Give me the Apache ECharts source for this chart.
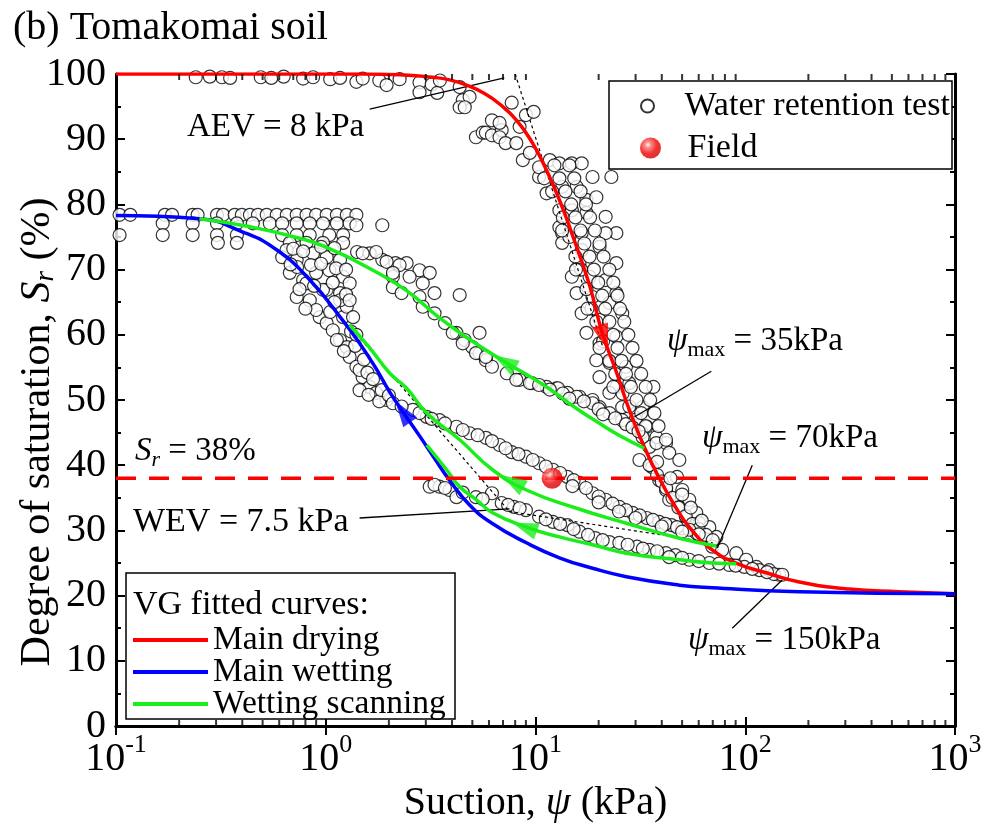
<!DOCTYPE html>
<html><head><meta charset="utf-8">
<script src="https://cdn.jsdelivr.net/npm/echarts@6/dist/echarts.min.js"></script>
<style>html,body{margin:0;padding:0;background:#fff}#c{width:985px;height:832px}</style>
</head><body><div id="c"></div>
<script>
const FONT = 'Liberation Serif';

// ---- axis ticks ----
const yRange = [0, 100];
const xRange = [0.1, 1000];
const xMinorTicks = [0.2,0.3,0.4,0.5,0.6,0.7,0.8,0.9,2,3,4,5,6,7,8,9,20,30,40,50,60,70,80,90,200,300,400,500,600,700,800,900];

// ---- VG fitted curves [suction kPa, Sr %] ----
const mainDrying = [[0.1,100],[1.5,100],[2.25,99.9],[3.23,99.5],[3.89,99.1],[4.69,98.3],[5.65,97.1],[6.74,95.4],[8.13,92.9],[9.68,89.4],[11.0,86.0],[13.0,80.7],[15.3,74.5],[18.1,67.6],[20.8,60.3],[24.3,54.3],[28.0,48.5],[33.0,42.8],[38.9,38.0],[45.9,33.9],[54.1,30.5],[69.6,27.0],[93.6,24.8],[126,23.5],[181,22.1],[313,21.0],[541,20.6],[1000,20.3]];
const mainWetting = [[0.1,78.3],[0.25,77.8],[0.40,75.8],[0.585,73.0],[0.84,68.4],[1.2,62.3],[1.45,58.7],[1.71,55.2],[2.02,51.2],[2.33,48.2],[2.8,44.5],[3.34,40.8],[3.85,37.9],[4.85,33.9],[6.2,31.1],[9.05,28.1],[13,25.8],[18.7,24.2],[27.1,22.9],[48.5,21.6],[69.6,21.2],[181,20.6],[1000,20.3]];
const scan35 = [[0.25,77.8],[0.43,76.6],[0.75,74.8],[1.08,73.0],[1.57,70.4],[2.4,66.9],[3.45,62.7],[4.9,59.2],[7.2,55.8],[11.3,52.0],[16,48.5],[20,46.5],[25,44.6],[33.0,42.6]];
const scan70 = [[1.30,61.5],[1.62,58.0],[2.02,54.1],[2.43,51.8],[3.03,48.0],[4.35,43.9],[6.24,39.3],[9.05,36.2],[15.7,33.4],[27.1,31.1],[48.5,28.8],[72.8,27.6]];
const scan150 = [[3.03,43.1],[3.77,39.3],[4.35,36.7],[5.23,34.7],[6.24,32.7],[9.05,30.5],[13,29.0],[18.7,27.8],[27.1,26.5],[48.5,25.5],[69.6,25.0],[90.6,24.9]];

// ---- water retention test data [suction kPa, Sr %] ----
const testDryingTop = [[0.24,99.5],[0.28,99.6],[0.32,99.5],[0.35,99.4],[0.49,99.5],[0.55,99.4],[0.63,99.6],[0.78,99.3],[0.87,99.5],[1.05,99.2],[1.17,99.4],[1.4,98.8],[1.5,99.3],[1.8,99.0],[1.95,98.3],[2.25,99.2],[2.8,98.7],[2.8,97.2],[3.2,98.4],[3.4,97.1],[3.5,99.0],[4.35,98.0],[4.5,96.0],[4.85,96.5],[4.35,94.9],[4.6,94.9]];
const testDryingBand = [[5.2,90.3],[5.6,91.0],[5.8,91.0],[6.2,90.6],[6.9,91.4],[6.74,90.3],[7.2,89.4],[7.7,95.6],[9.0,93.7],[9.8,94.2],[6.2,92.9],[6.74,92.5],[8.4,91.9],[8.1,89.4],[8.7,86.8],[9.4,87.9],[10.4,84.2],[10.4,85.7],[11.7,86.8],[13.0,86.3],[14.9,86.3],[16.6,86.3],[18.7,84.2],[23.0,84.2],[11.3,81.7],[13.4,82.7],[15.7,82.7],[17.5,80.7],[19.5,81.1],[13.0,79.1],[14.9,79.1],[17.5,78.7],[21.6,78.1],[24.3,75.6],[21.6,75.6],[13.4,75.6],[16.6,75.6],[13.0,76.5],[13.4,74.1],[16.6,73.0],[20.2,73.5],[24.3,71.0],[16.2,71.0],[14.9,68.9],[18.1,68.9],[21.6,68.4],[24.3,66.4],[15.7,66.4],[18.7,65.8],[22.5,64.9],[16.6,63.3],[20.2,62.3],[25.9,63.3],[17.5,60.3],[20.2,58.7],[24.3,59.7],[19.5,56.1],[22.5,55.7],[27.0,55.1],[20.2,53.5],[24.3,52.0],[28.0,52.6],[36.5,52.0],[22.5,51.1],[25.9,48.9],[30.3,48.0],[32.4,48.9],[33.9,45.9],[37.7,44.3],[41.9,43.4],[34.9,42.8],
  [11,84],[12,82],[13.5,78],[14.5,75],[15.5,72],[16.5,70],[17.5,67],[18.5,64],[19.5,62],[21,59],[22.5,56],[24,54],[26,51],[28,49],[30,47],[32,45],
  [12.3,86],[14.5,86],[13.0,84],[15.3,84],[13.9,82],[16.4,82],[14.8,80],[17.4,80],[15.5,78],[18.2,78],[16.4,76],[19.2,76],[17.1,74],[20.2,74],[18.1,72],[21.1,72],[19.0,70],[22.5,70],[19.9,68],[23.5,68],[20.8,66],[24.6,66],[21.5,64],[25.3,64],[22.5,62],[26.5,62],[23.5,60],[27.7,60],[24.6,58],[29.0,58],[25.7,56],[30.3,56],[27.0,54],[31.9,54],[28.5,52],[33.5,52],[30.3,50],[35.2,50],[31.9,48],[36.9,48],[33.5,46],[38.6,46],
  [13.4,76],[15.6,70],[17.7,64],[20.2,58],[23.5,52]];
const testDryingLow = [[32.4,44.3],[37.7,43.4],[41.9,43.9],[31.3,40.8],[36.0,39.7],[43.4,41.9],[48.5,40.8],[38.9,37.7],[41.9,36.2],[47.3,38.2],[50.1,36.2],[43.4,34.7],[48.5,33.6],[54.1,34.7],[52.4,32.1],[58.4,32.7],[60.4,31.1],[67.4,30.5],[58.4,29.6],[72.8,29.0],[69.6,27.5],[77.6,27.0],[90.6,26.5],[101,25.5],[113,24.4],[130,23.9],[145,23.2],
  [35,40],[38,38.5],[40,37.5],[42,36.5],[45,35],[48,33.5],[52,32.2],[56,31],[60,30.2],[65,29.3],[70,28.5],[38,40.5],[44,38],[50,35.5],[55,33.5],[62,31.5]];
const testWettingTop = [[0.104,78.4],[0.117,78.4],[0.171,78.4],[0.185,78.4],[0.232,78.4],[0.245,78.4],[0.303,78.4],[0.324,78.4],[0.368,78.4],[0.398,78.4],[0.435,78.4],[0.475,78.4],[0.523,78.4],[0.584,78.4],[0.652,78.4],[0.727,78.4],[0.81,78.4],[0.90,78.4],[1.01,78.4],[1.13,78.4],[1.26,78.4],[1.40,78.4],
  [0.167,77.1],[0.232,77.1],[0.303,77.1],[0.377,77.1],[0.449,77.1],[0.541,77.1],[0.62,77.1],[0.727,77.1],[0.839,77.1],[0.97,77.1],[1.13,77.1],[1.30,77.1],[1.40,76.8],[1.86,76.8],
  [0.104,75.3],[0.167,75.3],[0.232,75.3],[0.303,75.3],[0.377,75.3],[0.62,75.3],[0.727,75.3],[0.839,75.3],[1.04,75.3],[1.21,75.3],
  [0.306,74.1],[0.377,74.1],[0.674,74.1],[0.81,74.1],[0.97,74.1],[1.21,74.1]];
const testWettingDrop = [[0.62,71.9],[0.727,71.5],[0.87,72.5],[1.01,71.9],[1.17,71.5],[0.674,69.5],[0.78,68.4],[0.90,69.5],[1.04,69.9],[1.21,68.9],[0.727,65.8],[0.839,65.3],[1.01,66.9],[1.17,66.4],[1.30,67.9],[0.936,62.7],[1.01,61.8],[1.08,60.7],[1.17,59.2],[1.26,58.1],[1.30,56.6],[1.40,55.1],[1.50,53.5],[1.62,52.0],[1.21,62.7],[1.26,64.3],[1.74,51.1],[1.95,50.0],[0.65,73.0],[0.73,70.4],[0.81,67.9],[0.90,63.8],[1.13,59.2],[1.45,54.6],[1.17,65.3],[1.35,62.7],[0.97,66.9],[1.45,51.5],[1.6,50.8],[1.8,49.8],
  [0.7,73.2],[0.78,72.8],[0.95,73.5],[1.1,73.3],[0.68,70.8],[0.85,70.7],[0.95,70.9],[1.12,70.2],[1.25,70.0],[0.75,67.0],[0.88,67.5],[1.08,68.0],[1.25,66.2],[0.8,64.0],[1.05,63.5],[1.1,65.0],[1.3,65.3],[1.32,60.5],[1.38,58.3],[1.22,57.5],[1.52,56.2],[1.58,54.2],[1.68,53.2],[1.85,51.5],[2.0,50.7],[1.4,60.0]];
const testScan35 = [[1.41,72.7],[1.62,72.5],[1.86,71.5],[2.15,71.0],[2.43,71.0],[2.8,69.9],[3.13,69.5],[2.51,68.9],[2.09,68.9],[2.9,67.9],[3.3,66.4],[2.8,65.8],[4.35,66.1],[2.9,64.3],[3.3,63.3],[3.7,61.8],[4.2,60.3],[4.6,59.2],[5.0,58.1],[5.41,60.3],[5.41,57.2],[5.8,56.1],[6.2,55.1],[7.3,54.1],[8.4,53.1],[9.6,52.6],[11.3,52.0],[12.6,51.8],[14.2,51.1],[16.2,50.5],[18.7,50.0],[20.2,48.9],
  [1.5,72.5],[1.74,72.7],[1.95,71.2],[2.25,70.7],[2.09,69.5],[2.09,67.3],[2.3,66.4],[4.03,60.3],[4.5,58.7],[5.2,57.2],[5.8,56.6],
  [8.1,53.1],[9.4,52.6],[12.8,51.8],[15.7,50.5],[18.7,49.5],[22.5,48.0],[25.9,46.9],[10.4,52.3],[11.7,51.6],[13.5,51.0],[14.5,50.2],[17,49.8],[20,48.6],[21,47.8],[24,47.2],[27,46.3],[29,45.8],[31,45.2]];
const testScan70 = [[2.09,49.5],[2.6,48.5],[3.03,47.4],[3.49,46.9],[4.2,45.9],[4.85,44.9],[5.8,44.2],[6.74,43.1],[7.7,42.0],[9.0,41.3],[10.4,40.3],[12.1,39.3],[14.2,38.2],[16.2,37.3],[18.7,35.7],[21.6,34.7],[25.1,33.6],[29.0,32.7],[33.9,31.9],[38.9,31.3],[44.6,30.8],[50,30.3],[54.1,30.1],
  [2.3,49.0],[2.8,48.0],[3.2,47.1],[3.7,46.4],[4.5,45.4],[5.3,44.6],[6.2,43.7],[7.2,42.6],[8.3,41.7],[9.7,40.8],[11.2,39.8],[13.1,38.8],[15.2,37.7],[17.4,36.5],[20,35.2],[23.3,34.1],[27,33.1],[31.4,32.3],[36.3,31.6],[41.6,31.0],[47.3,30.5],
  [15,36.8],[20,34.3],[25,32.9],[30,31.9],[40,30.6],[50,29.8],[60,29.4]];
const testScan150 = [[3.13,36.7],[3.49,36.7],[3.89,36.2],[4.2,35.1],[5.2,35.1],[6.2,35.7],[6.9,34.2],[7.9,33.6],[9.0,33.1],[10.4,32.1],[12.1,31.3],[14.2,30.8],[16.2,29.8],[19.3,28.8],[22.5,28.2],[25.1,28.1],[30.5,27.5],[34.9,27.0],[41.9,26.5],[46.5,26.2],[43.4,25.9],[54.1,25.5],[67.4,25.0],[83.9,24.7],[99,24.4],[117,23.9],[137,23.3],[150,23.2],
  [3.3,37.0],[3.7,36.5],[4.5,35.8],[5.6,34.8],[7.4,33.9],[8.4,33.4],[11.2,31.7],[13.1,31.0],[15.2,30.2],[17.8,29.3],[20.9,28.5],[27.5,27.8],[32.5,27.2],[38,26.8],[50,25.8],[60,25.3],[75,24.9],[90,24.6],[108,24.1],[127,23.6]];

// ---- field measurement ----
const fieldPoint = [[12.0, 38.0]];
const fieldLevel = [[0.1, 38], [1000, 38]];

// ---- construction lines & annotations ----
const aevTangent = [[8, 100], [21, 58]];
const wevTangentA = [[1.35, 60.7], [7.5, 32.9]];
const wevTangentB = [[7.5, 32.9], [70, 28.1]];
const leaderAEV = [[1.62, 94.6], [7.1, 99.4]];
const leader35 = [[68.9, 54.4], [29.6, 47.4]];
const leader70 = [[108, 40.0], [73.6, 27.3]];
const leader150 = [[86.7, 15.0], [150, 22.4]];
const leaderWEV = [[1.45, 31.9], [7.52, 33.3]];
const curveArrows = [[21.2, 59.6], [2.33, 48.2], [7.1, 55.9], [7.76, 37.5], [8.87, 30.5]];

const arrowLook = [
  {color: '#ff0000', rot: -162},
  {color: '#0000ff', rot: 35},
  {color: '#1aee1a', rot: 60},
  {color: '#1aee1a', rot: 60},
  {color: '#1aee1a', rot: 70}
];

const RED = '#ff0000', BLUE = '#0000ff', GREEN = '#1aee1a';

function curve(name, data, color) {
  return {type: 'line', name, data, symbol: 'none', smooth: 0.5,
    lineStyle: {color, width: 3.5}, itemStyle: {color}, z: 4, silent: true};
}
function thinLine(data, type) {
  return {type: 'line', data, symbol: 'none', silent: true, z: 3,
    lineStyle: {color: '#000', width: type === 'solid' ? 1.3 : 1.2, type: type === 'solid' ? 'solid' : [3, 3]}};
}

const chart = echarts.init(document.getElementById('c'));
const txt = (extra) => Object.assign({fontFamily: FONT, color: '#000'}, extra);

const sphere = {type: 'radial', x: 0.38, y: 0.35, r: 0.7, colorStops: [
  {offset: 0, color: '#ffffff'}, {offset: 0.2, color: '#ff7070'}, {offset: 0.6, color: '#ee0000'}, {offset: 1, color: '#cc0000'}]};

const psiRich = {
  p: {fontStyle: 'italic', fontSize: 33, fontFamily: FONT, lineHeight: 33, verticalAlign: 'top', color: '#000'},
  s: {fontSize: 22, fontFamily: FONT, lineHeight: 22, padding: [15, 0, 0, 0], verticalAlign: 'top', color: '#000'},
  si: {fontSize: 22, fontStyle: 'italic', fontFamily: FONT, lineHeight: 22, padding: [15, 0, 0, 0], verticalAlign: 'top', color: '#000'},
  t: {fontSize: 33, fontFamily: FONT, lineHeight: 33, verticalAlign: 'top', color: '#000'},
  w: {fontSize: 34, fontFamily: FONT, lineHeight: 34, verticalAlign: 'top', color: '#000'}
};
const yTitleRich = {
  t: {fontSize: 42, fontFamily: FONT, lineHeight: 42, verticalAlign: 'top', color: '#000'},
  i: {fontSize: 42, fontStyle: 'italic', fontFamily: FONT, lineHeight: 42, verticalAlign: 'top', color: '#000'},
  sub: {fontSize: 27, fontStyle: 'italic', fontFamily: FONT, lineHeight: 27, padding: [15, 0, 0, 0], verticalAlign: 'top', color: '#000'}
};
function annot(x, y, text) {
  return {type: 'text', x, y, z: 4, silent: true,
    style: {text, rich: psiRich, font: '33px "Liberation Serif"', fill: '#000', verticalAlign: 'middle', align: 'left'}};
}

const option = {
  animation: false,
  backgroundColor: '#fff',
  textStyle: {fontFamily: FONT},
  title: {text: '(b) Tomakomai soil', left: 8, top: 3,
    textStyle: {fontSize: 40, fontWeight: 'normal', fontFamily: FONT, color: '#000'}},
  grid: {left: 116, right: 30, top: 74, bottom: 106, outerBoundsMode: 'none', containLabel: false},
  xAxis: [{
    type: 'log', logBase: 10, min: xRange[0], max: xRange[1], position: 'bottom',
    axisLine: {lineStyle: {color: '#000', width: 3}},
    axisTick: {inside: true, length: 9, lineStyle: {color: '#000', width: 2}},
    splitLine: {show: false},
    axisLabel: {margin: 13, formatter: v => '{b|10}{s|' + Math.round(Math.log10(v)) + '}',
      rich: {b: txt({fontSize: 40, lineHeight: 40, verticalAlign: 'bottom'}),
             s: txt({fontSize: 26, lineHeight: 26, padding: [0, 0, 21, 0], verticalAlign: 'bottom'})}},
    name: '{t|Suction, }{i|ψ}{t| (kPa)}', nameLocation: 'middle', nameGap: 56,
    nameTextStyle: {rich: {t: txt({fontSize: 40}), i: txt({fontSize: 40, fontStyle: 'italic'})}}
  }, {
    type: 'log', logBase: 10, min: xRange[0], max: xRange[1], position: 'top',
    axisLine: {lineStyle: {color: '#000', width: 3}},
    axisTick: {inside: true, length: 9, lineStyle: {color: '#000', width: 2}},
    axisLabel: {show: false}, splitLine: {show: false}
  }],
  yAxis: [{
    type: 'value', min: yRange[0], max: yRange[1], interval: 10, position: 'left',
    axisLine: {show: true, lineStyle: {color: '#000', width: 3}},
    axisTick: {inside: true, length: 9, lineStyle: {color: '#000', width: 2}},
    minorTick: {show: true, splitNumber: 2, length: 5, lineStyle: {color: '#000', width: 2}},
    splitLine: {show: false},
    axisLabel: txt({fontSize: 40, margin: 10})
  }, {
    type: 'value', min: yRange[0], max: yRange[1], interval: 10, position: 'right',
    axisLine: {show: true, lineStyle: {color: '#000', width: 3}},
    axisTick: {inside: true, length: 9, lineStyle: {color: '#000', width: 2}},
    minorTick: {show: true, splitNumber: 2, length: 5, lineStyle: {color: '#000', width: 2}},
    splitLine: {show: false}, axisLabel: {show: false}
  }],
  legend: [{
    data: [{name: 'Water retention test', icon: 'circle'}], left: 635, top: 84,
    itemWidth: 64, itemHeight: 13, selectedMode: false, z: 6,
    textStyle: txt({fontSize: 34})
  }, {
    data: [{name: 'Field', icon: 'circle'}], left: 635, top: 126,
    itemWidth: 64, itemHeight: 21, selectedMode: false, z: 6,
    textStyle: txt({fontSize: 34})
  }, {
    data: ['Main drying', 'Main wetting', 'Wetting scanning'], orient: 'vertical', left: 128, top: 618,
    itemWidth: 75, itemHeight: 4, icon: 'rect', itemGap: -2, selectedMode: false, z: 6,
    textStyle: txt({fontSize: 33.5})
  }],
  graphic: [
    {type: 'rect', shape: {x: 609, y: 81, width: 343, height: 88}, style: {fill: '#fff', stroke: '#000', lineWidth: 1.5}, z: 3, silent: true},
    {type: 'rect', shape: {x: 126, y: 573, width: 329, height: 146}, style: {fill: '#fff', stroke: '#000', lineWidth: 1.5}, z: 3, silent: true},
    {type: 'text', x: 133, y: 605, z: 4, silent: true, style: {text: 'VG fitted curves:', font: '34px "Liberation Serif"', fill: '#000', verticalAlign: 'middle'}},
    {type: 'text', x: 38, y: 432, rotation: Math.PI / 2, z: 4, silent: true,
      style: {text: '{t|Degree of saturation, }{i|S}{sub|r}{t| (%)}', rich: yTitleRich, fill: '#000', align: 'center', verticalAlign: 'middle'}},
    annot(187, 127, '{t|AEV = 8 kPa}'),
    annot(133, 522, '{w|WEV = 7.5 kPa}'),
    annot(135, 451, '{p|S}{si|r}{t| = 38%}'),
    annot(667, 341, '{p|ψ}{s|max}{t| = 35kPa}'),
    annot(702, 438, '{p|ψ}{s|max}{t| = 70kPa}'),
    annot(688, 640, '{p|ψ}{s|max}{t| = 150kPa}')
  ],
  series: [
    {type: 'scatter', name: 'Water retention test', symbol: 'circle', symbolSize: 13, z: 2,
      itemStyle: {color: '#fff', borderColor: '#000', borderWidth: 1.2},
      data: [].concat(testDryingTop, testDryingBand, testDryingLow, testWettingTop, testWettingDrop, testScan35, testScan70, testScan150)},
    thinLine(aevTangent, 'dot'), thinLine(wevTangentA, 'dot'), thinLine(wevTangentB, 'dot'),
    curve('Main drying', mainDrying, RED),
    curve('Main wetting', mainWetting, BLUE),
    curve('Wetting scanning', scan35, GREEN),
    curve('Wetting scanning', scan70, GREEN),
    curve('Wetting scanning', scan150, GREEN),
    {type: 'scatter', symbol: 'triangle', symbolSize: [17, 26], z: 5, silent: true,
      data: curveArrows.map((p, i) => ({value: p, symbolRotate: arrowLook[i].rot, itemStyle: {color: arrowLook[i].color}}))},
    {type: 'line', data: fieldLevel, symbol: 'none', z: 5, silent: true,
      lineStyle: {color: RED, width: 3.5, type: [20, 13]}},
    thinLine(leaderAEV, 'solid'), thinLine(leader35, 'solid'), thinLine(leader70, 'solid'),
    thinLine(leader150, 'solid'), thinLine(leaderWEV, 'solid'),
    {type: 'scatter', name: 'Field', symbol: 'circle', symbolSize: 21, z: 6, data: fieldPoint,
      itemStyle: {color: sphere}},
    {type: 'scatter', symbol: 'rect', symbolSize: [2, 6], symbolOffset: [0, -3], clip: false, silent: true, z: 7,
      itemStyle: {color: '#000'}, data: xMinorTicks.map(v => [v, yRange[0]])},
    {type: 'scatter', symbol: 'rect', symbolSize: [2, 6], symbolOffset: [0, 3], clip: false, silent: true, z: 7,
      itemStyle: {color: '#000'}, data: xMinorTicks.map(v => [v, yRange[1]])}
  ]
};
chart.setOption(option);
</script></body></html>
